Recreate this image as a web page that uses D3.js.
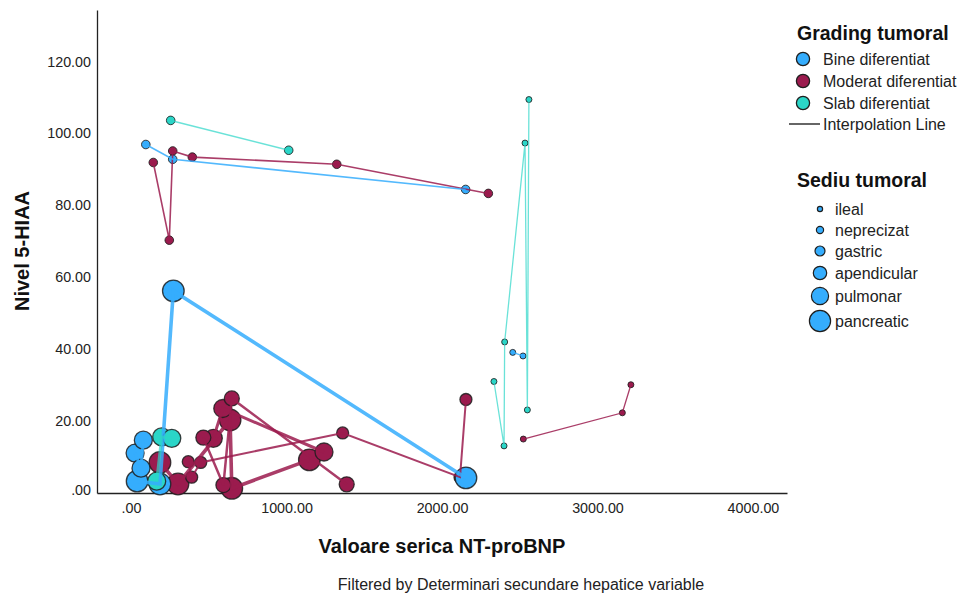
<!DOCTYPE html>
<html>
<head>
<meta charset="utf-8">
<script src="https://cdn.jsdelivr.net/npm/d3@7"></script>
<style>
  body { margin: 0; background: #fff; }
  text { font-family: "Liberation Sans", Arial, sans-serif; }
</style>
</head>
<body>
<div id="chart"></div>
<script>
// categories
const grades = ["Bine diferentiat", "Moderat diferentiat", "Slab diferentiat"];
const sites = ["ileal", "neprecizat", "gastric", "apendicular", "pulmonar", "pancreatic"];
const xTicks = [0, 1000, 2000, 3000, 4000];
const yTicks = [0, 20, 40, 60, 80, 100, 120];

// [NT-proBNP, 5-HIAA] per grade x site group
const moderatPancreatic = [[186, 8.5], [302, 2.5], [637, 20.3], [648, 1.3], [1147, 9.2]];
const moderatPulmonar = [[529, 15.2], [590, 23.5], [1241, 11.4]];
const moderatApendicular = [[465, 15.4], [594, 2.2], [648, 26.3], [1387, 2.4]];
const moderatGastric = [[368, 8.7], [390, 4.4], [448, 8.5], [1361, 16.7], [2116, 4.4], [2154, 26.0]];
const moderatNeprecizat = [[143, 91.9], [246, 70.3], [268, 95.1], [394, 93.4], [1323, 91.4], [2298, 83.3]];
const moderatIleal = [[2523, 15.0], [3160, 22.3], [3215, 30.1]];

const binePancreatic = [[39, 3.3], [186, 2.5], [272, 56.2], [2154, 4.2]];
const binePulmonar = [[26, 11.1], [64, 6.9], [79, 14.7]];
const bineNeprecizat = [[95, 96.9], [268, 92.8], [2152, 84.4]];
const bineIleal = [[2455, 39.1], [2521, 38.1]];

const slabPulmonar = [[165, 3.3], [197, 15.6], [262, 15.2]];
const slabNeprecizat = [[255, 103.6], [1014, 95.3]];
const slabIleal = [[2334, 31.0], [2399, 13.1], [2403, 42.0], [2534, 97.3], [2549, 23.1], [2559, 109.4]];

const groups = [
  {grade: grades[1], site: "pancreatic", pts: moderatPancreatic},
  {grade: grades[1], site: "pulmonar", pts: moderatPulmonar},
  {grade: grades[1], site: "apendicular", pts: moderatApendicular},
  {grade: grades[1], site: "gastric", pts: moderatGastric},
  {grade: grades[1], site: "neprecizat", pts: moderatNeprecizat},
  {grade: grades[1], site: "ileal", pts: moderatIleal},
  {grade: grades[0], site: "pancreatic", pts: binePancreatic},
  {grade: grades[0], site: "pulmonar", pts: binePulmonar},
  {grade: grades[0], site: "neprecizat", pts: bineNeprecizat},
  {grade: grades[0], site: "ileal", pts: bineIleal},
  {grade: grades[2], site: "pulmonar", pts: slabPulmonar},
  {grade: grades[2], site: "neprecizat", pts: slabNeprecizat},
  {grade: grades[2], site: "ileal", pts: slabIleal}
];

const width = 963, height = 597;
const color = d3.scaleOrdinal(grades, ["#35adfd", "#9b1b4e", "#2bd6c8"]);
const radius = d3.scaleOrdinal(sites, [3, 4.3, 6, 7.5, 9, 10.8]);
const legendRadius = d3.scaleOrdinal(sites, [2.6, 3.6, 5, 6.7, 8.6, 10.6]);
const lineW = d3.scaleOrdinal(sites, [1.3, 1.6, 2, 2.5, 3, 3.6]);

const x = d3.scaleLinear().domain([-219, 4219]).range([97, 787]);
const y = d3.scaleLinear().domain([0, 134.3]).range([493, 10]);
const fmt = v => v === 0 ? ".00" : d3.format(".2f")(v);

const svg = d3.select("#chart").append("svg")
    .attr("width", width)
    .attr("height", height);

// axes
svg.append("g")
    .attr("transform", "translate(97,0)")
    .call(d3.axisLeft(y).tickValues(yTicks).tickFormat(fmt).tickSize(0).tickPadding(6))
    .call(g => g.select(".domain").attr("stroke", "#222").attr("stroke-width", 1.3))
    .call(g => g.selectAll(".tick text").attr("font-size", 14.3).attr("fill", "#222")
      .attr("dy", d => d === 0 ? "0.12em" : "0.32em")
      .style("font-family", "Liberation Sans, Arial, sans-serif"));

svg.append("g")
    .attr("transform", "translate(0,493)")
    .call(d3.axisBottom(x).tickValues(xTicks).tickFormat(fmt).tickSize(0).tickPadding(10))
    .call(g => g.select(".domain").attr("stroke", "#222").attr("stroke-width", 1.3))
    .call(g => g.selectAll(".tick text").attr("font-size", 14.3).attr("fill", "#222")
      .style("font-family", "Liberation Sans, Arial, sans-serif"));

const plot = svg.append("g");
const line = d3.line().x(d => x(d[0])).y(d => y(d[1]));

// markers
groups.forEach(gr => {
  plot.append("g")
    .selectAll("circle")
    .data(gr.pts)
    .join("circle")
      .attr("cx", d => x(d[0]))
      .attr("cy", d => y(d[1]))
      .attr("r", radius(gr.site))
      .attr("fill", color(gr.grade))
      .attr("stroke", "#1e1e1e")
      .attr("stroke-opacity", 0.85)
      .attr("stroke-width", gr.site === "ileal" || gr.site === "neprecizat" ? 1 : 1.3);
});

// interpolation lines, points joined in x order
groups.forEach(gr => {
  const sorted = gr.pts.slice().sort((a, b) => a[0] - b[0]);
  plot.append("path")
    .datum(sorted)
    .attr("d", line)
    .attr("fill", "none")
    .attr("stroke", color(gr.grade))
    .attr("stroke-opacity", gr.grade === grades[2] ? 0.7 : 0.85)
    .attr("stroke-width", lineW(gr.site));
});

// axis titles
svg.append("text")
    .attr("transform", "translate(29,251) rotate(-90)")
    .attr("text-anchor", "middle")
    .attr("font-size", 20)
    .attr("font-weight", "bold")
    .attr("fill", "#111")
    .text("Nivel 5-HIAA");

svg.append("text")
    .attr("x", 442)
    .attr("y", 553)
    .attr("text-anchor", "middle")
    .attr("font-size", 20)
    .attr("font-weight", "bold")
    .attr("fill", "#111")
    .text("Valoare serica NT-proBNP");

svg.append("text")
    .attr("x", 521)
    .attr("y", 590)
    .attr("text-anchor", "middle")
    .attr("font-size", 16)
    .attr("fill", "#222")
    .text("Filtered by Determinari secundare hepatice variable");

// legend: grading
const leg = svg.append("g");
leg.append("text")
    .attr("x", 797).attr("y", 40)
    .attr("font-size", 19.5).attr("font-weight", "bold").attr("fill", "#111")
    .text("Grading tumoral");

grades.forEach((gname, i) => {
  const cy = 59 + i * 22;
  leg.append("circle")
      .attr("cx", 803).attr("cy", cy).attr("r", 6.6)
      .attr("fill", color(gname)).attr("stroke", "#1e1e1e").attr("stroke-width", 1.3);
  leg.append("text")
      .attr("x", 823).attr("y", cy + 6)
      .attr("font-size", 16).attr("fill", "#222")
      .text(gname);
});
leg.append("line")
    .attr("x1", 789).attr("x2", 820).attr("y1", 124).attr("y2", 124)
    .attr("stroke", "#333").attr("stroke-width", 1.5);
leg.append("text")
    .attr("x", 823).attr("y", 130)
    .attr("font-size", 16).attr("fill", "#222")
    .text("Interpolation Line");

// legend: site
leg.append("text")
    .attr("x", 797).attr("y", 187)
    .attr("font-size", 19.5).attr("font-weight", "bold").attr("fill", "#111")
    .text("Sediu tumoral");

const siteY = [209, 230, 251, 273, 296, 321];
sites.forEach((s, i) => {
  leg.append("circle")
      .attr("cx", 820).attr("cy", siteY[i]).attr("r", legendRadius(s))
      .attr("fill", color(grades[0])).attr("stroke", "#1e1e1e").attr("stroke-width", 1.2);
  leg.append("text")
      .attr("x", 835).attr("y", siteY[i] + 6)
      .attr("font-size", 16).attr("fill", "#222")
      .text(s);
});
</script>
</body>
</html>
